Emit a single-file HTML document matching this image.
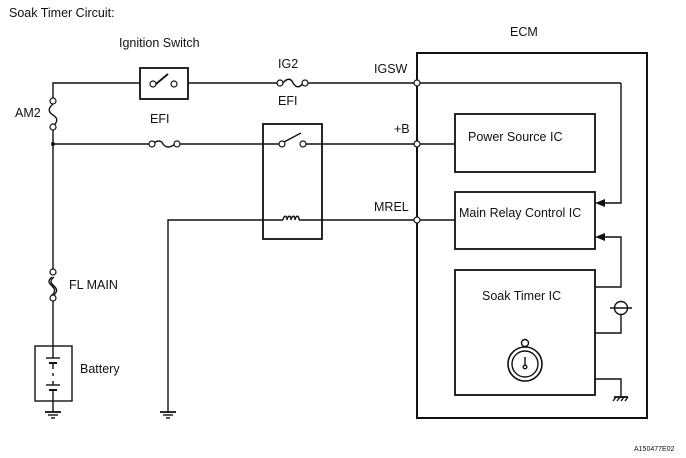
<!DOCTYPE html>
<html><head><style>body{margin:0;background:#fff}svg{display:block}text{font-family:"Liberation Sans",Arial,sans-serif;fill:#111}</style></head><body>
<svg width="686" height="458" viewBox="0 0 686 458" xmlns="http://www.w3.org/2000/svg">
<g stroke="#111" stroke-width="1.4" fill="none">
<!-- ECM -->
<rect x="417" y="53" width="230" height="365" stroke-width="2"/>
<rect x="455" y="114" width="140" height="58" stroke-width="1.8"/>
<rect x="455" y="192" width="140" height="57" stroke-width="1.8"/>
<rect x="455" y="270" width="140" height="125" stroke-width="1.8"/>
<!-- left trunk -->
<polyline points="140,83 53,83 53,100"/>
<path d="M53,104 c-5,4 -5,8 0,11 c5,3 5,7 0,11"/>
<polyline points="53,129 53,270"/>
<path d="M52,277 c-5,4 -3,6 0,9 c3,3 4,5 0,9 M54,277 c-5,4 -3,6 0,9 c3,3 4,5 0,9"/>
<polyline points="53,299 53,346"/>
<rect x="35" y="346" width="37" height="55"/>
<line x1="53" y1="346" x2="53" y2="358"/>
<line x1="46" y1="358" x2="60" y2="358"/><line x1="49" y1="363" x2="57" y2="363" stroke-width="2"/>
<line x1="53" y1="363" x2="53" y2="369"/>
<line x1="53" y1="373" x2="53" y2="379" stroke-dasharray="3,3"/>
<line x1="53" y1="381" x2="53" y2="385"/>
<line x1="46" y1="385" x2="60" y2="385"/><line x1="49" y1="390" x2="57" y2="390" stroke-width="2"/>
<line x1="53" y1="390" x2="53" y2="412"/>
<line x1="45" y1="412" x2="61" y2="412" stroke-width="1.8"/><line x1="48" y1="415" x2="58" y2="415"/><line x1="51" y1="418" x2="55" y2="418"/>
<!-- ignition switch -->
<rect x="140" y="68" width="48" height="31" stroke-width="1.8"/>
<line x1="156" y1="84" x2="168" y2="74" stroke-width="1.8"/>
<polyline points="188,83 280,83"/>
<path d="M283,83 c4,-5 8,-5 10,0 c3,5 7,5 10,0"/>
<polyline points="306,83 417,83"/>
<!-- EFI row -->
<polyline points="53,144 150,144"/>
<path d="M153,144 c4,-4 8,-4 10,0 c3,4 7,4 12,0"/>
<polyline points="178,144 282,144"/>
<rect x="263" y="124" width="59" height="115" stroke-width="1.8"/>
<line x1="284" y1="142" x2="301" y2="133"/>
<polyline points="306,144 417,144"/>
<polyline points="168,412 168,220 283,220"/>
<path d="M283,220 c1,-5 4,-5 4,0 c1,-5 4,-5 4,0 c1,-5 4,-5 4,0 c1,-5 4,-5 4,0"/>
<polyline points="299,220 417,220"/>
<line x1="160" y1="412" x2="176" y2="412" stroke-width="1.8"/><line x1="163" y1="415" x2="173" y2="415"/><line x1="166" y1="418" x2="170" y2="418"/>
<!-- ECM internal -->
<line x1="417" y1="83" x2="621" y2="83"/>
<polyline points="621,83 621,203 603,203"/>
<line x1="417" y1="144" x2="455" y2="144"/>
<line x1="417" y1="220" x2="455" y2="220"/>
<polyline points="595,287 621,287 621,237 603,237"/>
<polyline points="595,333 621,333 621,315"/>
<circle cx="621" cy="308" r="6.5"/>
<line x1="610" y1="308" x2="632" y2="308"/>
<polyline points="595,379 621,379 621,397"/>
<line x1="614" y1="397" x2="628" y2="397" stroke-width="1.8"/>
<path d="M616,397 l-3,4 M620,397 l-3,4 M624,397 l-3,4 M628,397 l-3,4"/>
<!-- stopwatch -->
<circle cx="525" cy="364" r="17" stroke-width="1.6"/>
<circle cx="525" cy="364" r="13"/>
<circle cx="525" cy="343" r="3.5"/>
<line x1="525" y1="357" x2="525" y2="365"/>
<circle cx="525" cy="367" r="1.8"/>
</g>
<g fill="#111" stroke="none">
<polygon points="595,203 605,199 605,207"/>
<polygon points="595,237 605,233 605,241"/>
<circle cx="53" cy="144" r="2"/>
</g>
<g fill="#fff" stroke="#111" stroke-width="1.2">
<circle cx="53" cy="101" r="3"/><circle cx="53" cy="127" r="3"/>
<circle cx="53" cy="272" r="3"/><circle cx="53" cy="298" r="3"/>
<circle cx="153" cy="84" r="3"/><circle cx="174" cy="84" r="3"/>
<circle cx="280" cy="83" r="3"/><circle cx="305" cy="83" r="3"/>
<circle cx="152" cy="144" r="3"/><circle cx="177" cy="144" r="3"/>
<circle cx="282" cy="144" r="3"/><circle cx="303" cy="144" r="3"/>
<circle cx="417" cy="83" r="3"/><circle cx="417" cy="144" r="3"/><circle cx="417" cy="220" r="3"/>
</g>
<g font-size="12.5">
<text x="9" y="17">Soak Timer Circuit:</text>
<text x="119" y="47">Ignition Switch</text>
<text x="510" y="36">ECM</text>
<text x="278" y="68">IG2</text>
<text x="278" y="105">EFI</text>
<text x="150" y="123">EFI</text>
<text x="15" y="117">AM2</text>
<text x="69" y="289">FL MAIN</text>
<text x="80" y="373">Battery</text>
<text x="374" y="73">IGSW</text>
<text x="394" y="133">+B</text>
<text x="374" y="211">MREL</text>
<text x="468" y="141">Power Source IC</text>
<text x="459" y="217">Main Relay Control IC</text>
<text x="482" y="300">Soak Timer IC</text>
<text x="634" y="451" font-size="7">A150477E02</text>
</g>
</svg>
</body></html>
